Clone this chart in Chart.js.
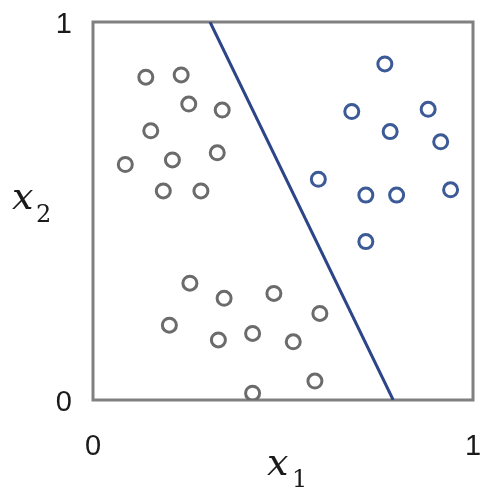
<!DOCTYPE html>
<html lang="en">
<head>
  <meta charset="UTF-8" />
  <title>Linear separator</title>
  <script src="https://cdn.jsdelivr.net/npm/chart.js"></script>
  <style>
    html, body { margin: 0; padding: 0; background: #fff; }
  </style>
</head>
<body>
  <canvas id="sepChart" width="481" height="488"></canvas>

  <script>
    // class A (gray) and class B (blue) samples
    const grayX = [0.139, 0.232, 0.252, 0.340, 0.152, 0.327, 0.209, 0.085, 0.185, 0.284,
                   0.255, 0.345, 0.476, 0.597, 0.201, 0.330, 0.420, 0.527, 0.584, 0.420];
    const grayY = [0.854, 0.860, 0.783, 0.767, 0.712, 0.654, 0.635, 0.623, 0.553, 0.553,
                   0.309, 0.269, 0.282, 0.229, 0.198, 0.159, 0.176, 0.154, 0.050, 0.018];
    const blueX = [0.768, 0.681, 0.882, 0.782, 0.915, 0.593, 0.718, 0.799, 0.941, 0.718];
    const blueY = [0.889, 0.763, 0.769, 0.710, 0.683, 0.584, 0.542, 0.542, 0.556, 0.419];
    // decision boundary end points
    const lineX = [0.308, 0.790];
    const lineY = [1, 0];
    const tickValues = [0, 1];

    const toPts = (xs, ys) => xs.map((x, i) => ({ x: x, y: ys[i] }));
    const tickFont = { size: 29, family: 'Arial, "Liberation Sans", sans-serif' };

    const frame = {
      id: 'frame',
      beforeDatasetsDraw(chart) {
        const { ctx, chartArea: a } = chart;
        ctx.save();
        ctx.strokeStyle = '#808080';
        ctx.lineWidth = 3;
        ctx.strokeRect(a.left, a.top, a.right - a.left, a.bottom - a.top);
        ctx.restore();
      },
      afterDraw(chart) {
        // axis names, set horizontally
        const { ctx } = chart;
        ctx.save();
        ctx.fillStyle = '#1a1a1a';
        ctx.textBaseline = 'alphabetic';
        ctx.font = 'italic 38px "DejaVu Serif"';
        ctx.fillText('x', 12, 209);
        ctx.fillText('x', 267, 475);
        ctx.font = '24px "DejaVu Serif"';
        ctx.fillText('2', 36, 222);
        ctx.fillText('1', 292, 487);
        ctx.restore();
      }
    };

    new Chart(document.getElementById('sepChart'), {
      type: 'scatter',
      data: {
        datasets: [
          {
            data: toPts(grayX, grayY),
            borderColor: '#6b6b6b',
            backgroundColor: 'rgba(255,255,255,0)',
            borderWidth: 3,
            pointRadius: 7
          },
          {
            data: toPts(blueX, blueY),
            borderColor: '#3b5a96',
            backgroundColor: 'rgba(255,255,255,0)',
            borderWidth: 3,
            pointRadius: 7
          },
          {
            type: 'line',
            data: toPts(lineX, lineY),
            borderColor: '#2c4488',
            borderWidth: 3,
            pointRadius: 0,
            fill: false
          }
        ]
      },
      options: {
        responsive: false,
        animation: false,
        layout: { autoPadding: false, padding: { top: 22, right: 8, left: 0, bottom: 0 } },
        plugins: { legend: { display: false }, tooltip: { enabled: false } },
        scales: {
          x: {
            type: 'linear', min: 0, max: 1,
            afterBuildTicks: s => { s.ticks = tickValues.map(v => ({ value: v })); },
            afterFit: s => { s.height = 88; s.paddingLeft = 0; s.paddingRight = 0; },
            grid: { display: false },
            border: { display: false },
            ticks: { padding: 22, color: '#1a1a1a', font: tickFont }
          },
          y: {
            type: 'linear', min: 0, max: 1,
            afterBuildTicks: s => { s.ticks = tickValues.map(v => ({ value: v })); },
            afterFit: s => { s.width = 93; s.paddingTop = 0; s.paddingBottom = 0; },
            grid: { display: false },
            border: { display: false },
            ticks: { padding: 13, labelOffset: 3, color: '#1a1a1a', font: tickFont }
          }
        }
      },
      plugins: [frame]
    });
  </script>
</body>
</html>
